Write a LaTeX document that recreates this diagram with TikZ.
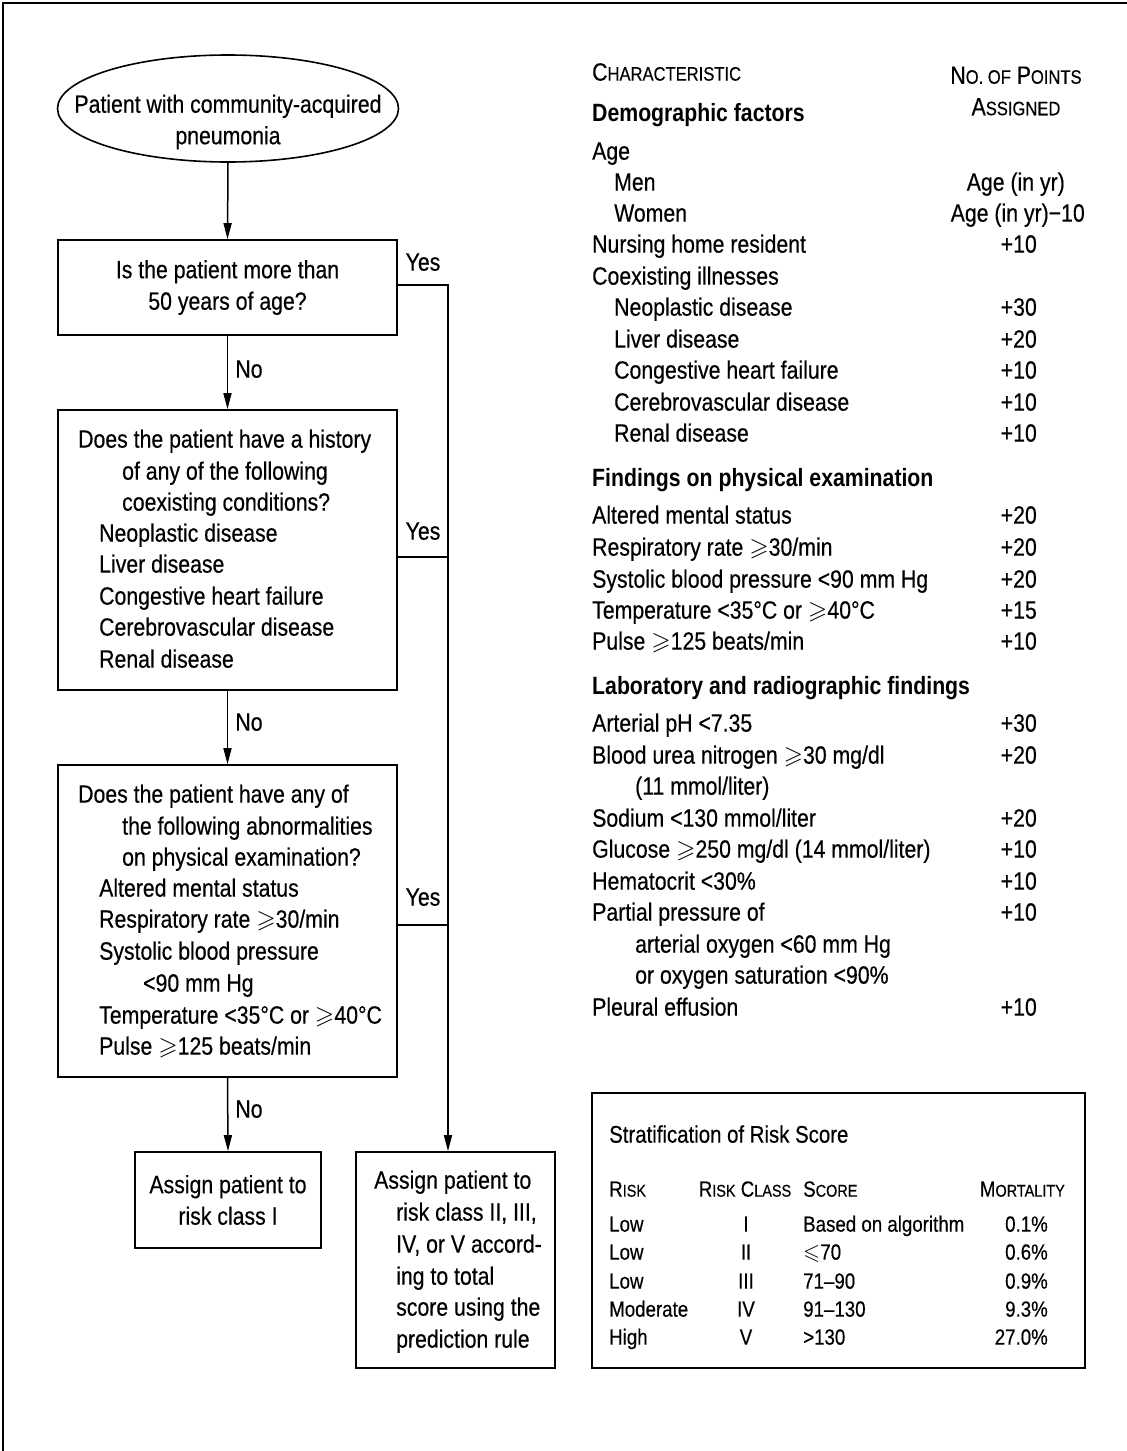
\documentclass[tikz,border=0pt]{standalone}
\usepackage{fontspec}
\usepackage{amssymb}
\setmainfont{Liberation Sans}[FakeStretch=0.85, UprightFeatures={FakeBold=0.4}]
\usetikzlibrary{arrows.meta,shapes.geometric}
\newcommand\fs{\fontsize{25}{31.5}\selectfont}
\newcommand\fst{\fontsize{22}{28}\selectfont}
\newcommand\smc{\fontsize{19.5}{20}\selectfont}
\newcommand\smct{\fontsize{17}{17}\selectfont}
\newcommand\geqs{$\geqslant$}
\newcommand\leqs{$\leqslant$}
\begin{document}
\begin{tikzpicture}[x=1pt,y=-1pt,
  box/.style={draw, line width=1.6pt, rectangle, inner sep=0pt, font=\fs, align=center},
  txt/.style={inner sep=0pt, anchor=mid west, font=\fs, yshift=-5pt},
  txtr/.style={inner sep=0pt, anchor=mid east, font=\fs, yshift=-5pt},
  lbl/.style={inner sep=0pt, anchor=mid, font=\fs, yshift=-5pt},
  stxt/.style={inner sep=0pt, anchor=mid west, font=\fst, yshift=-4pt},
  stxtc/.style={inner sep=0pt, anchor=mid, font=\fst, yshift=-4pt},
  stxtr/.style={inner sep=0pt, anchor=mid east, font=\fst, yshift=-4pt},
  conn/.style={line width=1.5pt},
  arr/.style={line width=1.5pt, -{Triangle[length=16pt,width=8pt]}}]
\useasboundingbox (0,0) rectangle (1127,1451);
% outer frame (top and left)
\draw[line width=2.5pt] (3,1451) -- (3,3) -- (1127,3);

% ---------- flowchart ----------
\node[draw, ellipse, line width=1.6pt, minimum width=341pt, minimum height=107pt, inner sep=0pt] (ell) at (228,108.5) {};
\node[inner sep=0pt, font=\fs, align=center] (ellt) at (228,122) {Patient with community-acquired\\pneumonia};
\node[box, minimum width=339pt, minimum height=95pt] (b1) at (227.5,287.5) {Is the patient more than\\50 years of age?};
\node[box, minimum width=339pt, minimum height=280pt] (b2) at (227.5,550) {};
\node[box, minimum width=339pt, minimum height=312pt] (b3) at (227.5,921) {};
\node[box, minimum width=186pt, minimum height=96pt] (b4) at (228,1200) {Assign patient to\\risk class I};
\node[box, minimum width=199pt, minimum height=216pt] (b5) at (455.5,1260) {};
\coordinate (yx) at (448,300);

% box 2 text
\node[txt] (b2t1) at (78,440) {Does the patient have a history};
\node[txt] (b2t2) at (122,472) {of any of the following};
\node[txt] (b2t3) at (122,503) {coexisting conditions?};
\node[txt] (b2t4) at (99,534) {Neoplastic disease};
\node[txt] (b2t5) at (99,565) {Liver disease};
\node[txt] (b2t6) at (99,597) {Congestive heart failure};
\node[txt] (b2t7) at (99,628) {Cerebrovascular disease};
\node[txt] (b2t8) at (99,660) {Renal disease};
% box 3 text
\node[txt] (b3t1) at (78,795) {Does the patient have any of};
\node[txt] (b3t2) at (122,827) {the following abnormalities};
\node[txt] (b3t3) at (122,858) {on physical examination?};
\node[txt] (b3t4) at (99,889) {Altered mental status};
\node[txt] (b3t5) at (99,920) {Respiratory rate \geqs30/min};
\node[txt] (b3t6) at (99,952) {Systolic blood pressure};
\node[txt] (b3t7) at (143,984) {<90 mm Hg};
\node[txt] (b3t8) at (99,1016) {Temperature <35°C or \geqs40°C};
\node[txt] (b3t9) at (99,1047) {Pulse \geqs125 beats/min};
% box 5 text
\node[txt] (b5t1) at (374,1181) {Assign patient to};
\node[txt] (b5t2) at (396,1213) {risk class II, III,};
\node[txt] (b5t3) at (396,1245) {IV, or V accord-};
\node[txt] (b5t4) at (396,1277) {ing to total};
\node[txt] (b5t5) at (396,1308) {score using the};
\node[txt] (b5t6) at (396,1340) {prediction rule};

% connectors
\draw[arr] (ell.south) -- (b1.north);
\draw[arr] (b1.south) -- (b2.north);
\draw[arr] (b2.south) -- (b3.north);
\draw[arr] (b3.south) -- (b4.north);
\draw[arr] ([yshift=2.5pt]b1.east) -| (b5.north -| yx);
\draw[conn] ([yshift=-7pt]b2.east) -- ([yshift=-7pt]b2.east -| yx);
\draw[conn] ([yshift=-4pt]b3.east) -- ([yshift=-4pt]b3.east -| yx);
\node[lbl] (y1) at (423,263) {Yes};
\node[lbl] (y2) at (423,532) {Yes};
\node[lbl] (y3) at (423,898) {Yes};
\node[lbl] (n1) at (249,370) {No};
\node[lbl] (n2) at (249,723) {No};
\node[lbl] (n3) at (249,1110) {No};

% ---------- characteristics table ----------
\node[txt] (hc) at (592,73) {C{\smc HARACTERISTIC}};
\node[inner sep=0pt, font=\fs, align=center] (hp) at (1016,91) {N{\smc O. OF} P{\smc OINTS}\\A{\smc SSIGNED}};
\node[txt] (hd) at (592,114) {\textbf{Demographic factors}};
\node[txt] (hage) at (592,152) {Age};
\node[txt] (hmen) at (614,183) {Men};
\node[txt] (hwom) at (614,214) {Women};
\node[txtr] (pmen) at (1065,183) {Age (in yr)};
\node[txtr] (pwom) at (1085,214) {Age (in yr)−10};
\foreach \y/\x/\t/\p [count=\i] in {
  245/592/{Nursing home resident}/{+10},
  277/592/{Coexisting illnesses}/{},
  308/614/{Neoplastic disease}/{+30},
  340/614/{Liver disease}/{+20},
  371/614/{Congestive heart failure}/{+10},
  403/614/{Cerebrovascular disease}/{+10},
  434/614/{Renal disease}/{+10},
  516/592/{Altered mental status}/{+20},
  548/592/{Respiratory rate \geqs30/min}/{+20},
  580/592/{Systolic blood pressure <90 mm Hg}/{+20},
  611/592/{Temperature <35°C or \geqs40°C}/{+15},
  642/592/{Pulse \geqs125 beats/min}/{+10},
  724/592/{Arterial pH <7.35}/{+30},
  756/592/{Blood urea nitrogen \geqs30 mg/dl}/{+20},
  787/635/{(11 mmol/liter)}/{},
  819/592/{Sodium <130 mmol/liter}/{+20},
  850/592/{Glucose \geqs250 mg/dl (14 mmol/liter)}/{+10},
  882/592/{Hematocrit <30\%}/{+10},
  913/592/{Partial pressure of}/{+10},
  945/635/{arterial oxygen <60 mm Hg}/{},
  976/635/{or oxygen saturation <90\%}/{},
  1008/592/{Pleural effusion}/{+10}}{
  \node[txt] (c\i) at (\x,\y) {\t};
  \node[txtr] (p\i) at (1037,\y) {\p};
}
\node[txt] (hf) at (592,479) {\textbf{Findings on physical examination}};
\node[txt] (hl) at (592,687) {\textbf{Laboratory and radiographic findings}};

% ---------- stratification box ----------
\node[draw, line width=1.6pt, rectangle, inner sep=0pt, minimum width=493pt, minimum height=275pt] (sb) at (838.5,1230.5) {};
\node[inner sep=0pt, anchor=mid west, font=\fontsize{24}{28}\selectfont, yshift=-5pt] (st) at (609,1135) {Stratification of Risk Score};
\node[stxt] (sh1) at (609,1190) {R{\smct ISK}};
\node[stxtc] (sh2) at (745,1190) {R{\smct ISK} C{\smct LASS}};
\node[stxt] (sh3) at (803,1190) {S{\smct CORE}};
\node[stxtr] (sh4) at (1065,1190) {M{\smct ORTALITY}};
\foreach \y/\r/\c/\s/\m [count=\i] in {
  1225/Low/I/{Based on algorithm}/{0.1\%},
  1253/Low/II/{\leqs70}/{0.6\%},
  1282/Low/III/{71–90}/{0.9\%},
  1310/Moderate/IV/{91–130}/{9.3\%},
  1338/High/V/{>130}/{27.0\%}}{
  \node[stxt] (sr\i) at (609,\y) {\r};
  \node[stxtc] (sc\i) at (746,\y) {\c};
  \node[stxt] (ss\i) at (803,\y) {\s};
  \node[stxtr] (sm\i) at (1048,\y) {\m};
}
\end{tikzpicture}
\end{document}
